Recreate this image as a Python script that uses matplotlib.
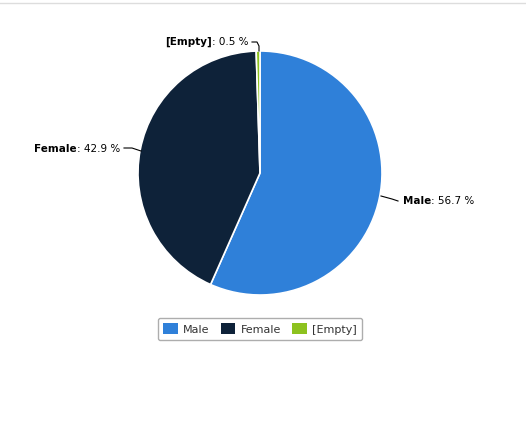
import matplotlib
matplotlib.use("Agg")
import matplotlib.pyplot as plt
from matplotlib.patches import Patch

categories = ["Male", "Female", "[Empty]"]
values = [56.7, 42.9, 0.5]
colors = ["#2f80d9", "#0e2239", "#8dc21f"]

W, H = 526, 425
fig = plt.figure(figsize=(W/100, H/100), dpi=100)
fig.add_artist(plt.Line2D([0, 1], [1-2.5/H]*2, color="#dddddd", lw=1))

cx, cy, r = 260, 173, 122
ax = fig.add_axes([(cx-r)/W, 1-(cy+r)/H, 2*r/W, 2*r/H])
ax.pie(values, colors=colors, startangle=90, counterclock=False,
       wedgeprops=dict(edgecolor="white", linewidth=1.2))
ax.set_xlim(-1, 1); ax.set_ylim(-1, 1); ax.set_aspect("auto")

def fx(x): return x/W
def fy(y): return 1-y/H

fig.canvas.draw()
rend = fig.canvas.get_renderer()
fs = 7.5
def label(name, val, x, y, ha):
    val_s = f": {val} %"
    if ha == "left":
        t1 = fig.text(fx(x), fy(y), name, fontsize=fs, weight="bold", va="center", ha="left")
        w = t1.get_window_extent(rend).width
        fig.text(fx(x+w), fy(y), val_s, fontsize=fs, va="center", ha="left")
    else:
        t2 = fig.text(fx(x), fy(y), val_s, fontsize=fs, va="center", ha="right")
        w = t2.get_window_extent(rend).width
        fig.text(fx(x-w), fy(y), name, fontsize=fs, weight="bold", va="center", ha="right")

def line(pts):
    fig.add_artist(plt.Line2D([fx(p[0]) for p in pts], [fy(p[1]) for p in pts], color="black", lw=0.8))

label(categories[0], values[0], 403, 201, "left")
line([(381, 196), (392, 199), (398, 201)])
label(categories[1], values[1], 120, 149, "right")
line([(124, 148), (132, 148), (141, 151)])
label(categories[2], values[2], 248, 42, "right")
line([(252, 42), (257, 42), (259, 46), (259, 51)])

handles = [Patch(facecolor=c, edgecolor="none") for c in colors]
fig.legend(handles, categories, loc="center", bbox_to_anchor=(fx(260), fy(329)),
           ncol=3, fontsize=8, frameon=True, fancybox=True, edgecolor="#999999",
           handlelength=1.3, handleheight=1.1, columnspacing=1.0, handletextpad=0.5,
           labelcolor="#333333", borderpad=0.5)
fig.savefig("out.png", dpi=100, facecolor="white")
